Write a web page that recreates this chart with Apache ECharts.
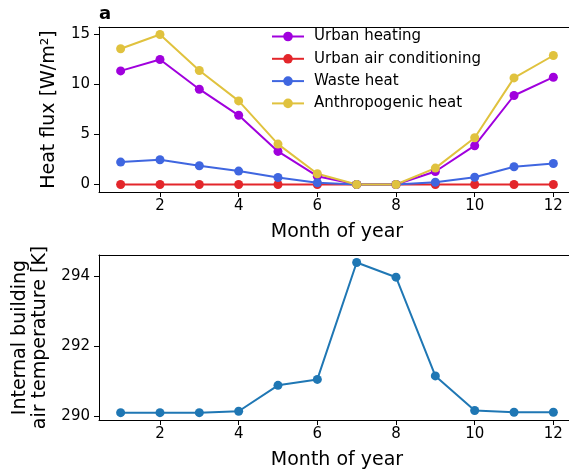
<!DOCTYPE html>
<html>
<head>
<meta charset="utf-8">
<script src="https://cdn.jsdelivr.net/npm/echarts@6/dist/echarts.min.js"></script>
<style>
  html, body { margin: 0; padding: 0; background: #fff; }
  #chart { width: 569px; height: 475px; }
</style>
</head>
<body>
<div id="chart"></div>
<script>
// Monthly values
const months = [1, 2, 3, 4, 5, 6, 7, 8, 9, 10, 11, 12];
const urbanHeating = [11.36, 12.5, 9.53, 6.92, 3.31, 0.83, 0.0, 0.0, 1.3, 3.88, 8.9, 10.73];
const urbanAirCond = [0, 0, 0, 0, 0, 0, 0, 0, 0, 0, 0, 0];
const wasteHeat = [2.24, 2.48, 1.87, 1.34, 0.70, 0.17, 0.0, 0.0, 0.23, 0.73, 1.77, 2.1];
const anthropogenicHeat = [13.57, 15.0, 11.4, 8.36, 4.04, 1.07, 0.0, 0.0, 1.64, 4.68, 10.66, 12.9];
const buildingTemp = [290.09, 290.09, 290.09, 290.13, 290.87, 291.04, 294.38, 293.96, 291.14, 290.15, 290.1, 290.1];

const monthTicks = [2, 4, 6, 8, 10, 12];
const fluxTicks = [0, 5, 10, 15];
const tempTicks = [290, 292, 294];

const FONT = 'DejaVu Sans';
const pairs = arr => months.map((m, i) => [m, arr[i]]);

function xAxisFor(gridIndex) {
  return {
    type: 'value', gridIndex, min: 0.45, max: 12.55,
    name: 'Month of year', nameLocation: 'middle', nameGap: 31,
    nameTextStyle: { fontFamily: FONT, fontSize: 19, color: '#000' },
    axisLine: { show: true, onZero: false, lineStyle: { color: '#000', width: 1 } },
    axisTick: { show: true, length: 5, customValues: monthTicks, lineStyle: { color: '#000' } },
    axisLabel: { customValues: monthTicks, fontFamily: FONT, fontSize: 15, color: '#000', margin: 7 },
    splitLine: { show: false }
  };
}
// plain frame line along the top of each panel
function topFrame(gridIndex) {
  return {
    type: 'value', gridIndex, position: 'top', min: 0, max: 1,
    axisLine: { show: true, onZero: false, lineStyle: { color: '#000', width: 1 } },
    axisTick: { show: false }, axisLabel: { show: false }, splitLine: { show: false }
  };
}
function yAxisFor(gridIndex, min, max, ticks, name, gap) {
  return {
    type: 'value', gridIndex, min, max,
    name, nameLocation: 'middle', nameGap: gap,
    nameTextStyle: { fontFamily: FONT, fontSize: 19, color: '#000', lineHeight: 20 },
    axisLine: { show: true, onZero: false, lineStyle: { color: '#000', width: 1 } },
    axisTick: { show: true, length: 5, customValues: ticks, lineStyle: { color: '#000' } },
    axisLabel: { customValues: ticks, fontFamily: FONT, fontSize: 15, color: '#000', margin: 9 },
    splitLine: { show: false }
  };
}

const chart = echarts.init(document.getElementById('chart'), null, { renderer: 'canvas' });

const lineSeries = (name, data, color, xi, yi) => ({
  name, type: 'line', data: pairs(data), xAxisIndex: xi, yAxisIndex: yi,
  symbol: 'circle', symbolSize: 9, showSymbol: true,
  lineStyle: { color, width: 2 }, itemStyle: { color },
  emphasis: { disabled: true }, animation: false
});

chart.setOption({
  animation: false,
  grid: [
    { left: 99, top: 27, width: 476, height: 165, outerBoundsMode: 'none' },
    { left: 99, top: 255, width: 476, height: 165, outerBoundsMode: 'none' }
  ],
  title: {
    text: 'a', left: 94, top: 0,
    textStyle: { fontFamily: FONT, fontSize: 18, fontWeight: 'bold', color: '#000' }
  },
  legend: {
    orient: 'vertical', left: 266, top: 24,
    itemWidth: 32, itemHeight: 12, itemGap: 7.3,
    textStyle: { fontFamily: FONT, fontSize: 15, color: '#000', padding: [0, 0, 0, 5] },
    data: ['Urban heating', 'Urban air conditioning', 'Waste heat', 'Anthropogenic heat']
  },
  xAxis: [xAxisFor(0), xAxisFor(1), topFrame(0), topFrame(1)],
  yAxis: [
    yAxisFor(0, -0.75, 15.75, fluxTicks, 'Heat flux [W/m²]', 40),
    yAxisFor(1, 289.88, 294.594, tempTicks, 'Internal building\nair temperature [K]', 49)
  ],
  series: [
    lineSeries('Urban heating', urbanHeating, '#a000dd', 0, 0),
    lineSeries('Urban air conditioning', urbanAirCond, '#e3262b', 0, 0),
    lineSeries('Waste heat', wasteHeat, '#3f66e0', 0, 0),
    lineSeries('Anthropogenic heat', anthropogenicHeat, '#e0c23e', 0, 0),
    lineSeries('Internal building air temperature', buildingTemp, '#1f77b4', 1, 1)
  ]
});
</script>
</body>
</html>
